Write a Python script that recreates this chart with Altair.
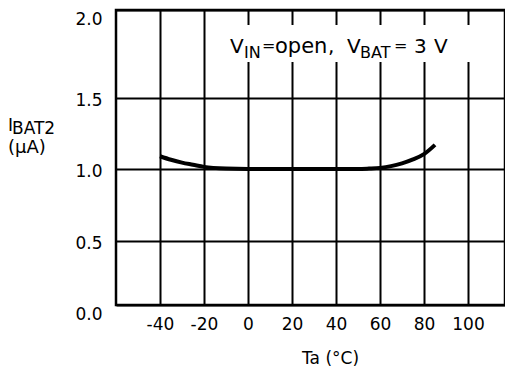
import altair as alt
import pandas as pd

# ---- data ----
temps = [-40, -35, -30, -25, -20, -10, 0, 10, 20, 30, 40, 50, 55, 60, 65, 70, 75, 80, 85]
ibat2 = [1.09, 1.065, 1.045, 1.03, 1.015, 1.003, 1.0, 1.0, 1.0, 1.0, 1.0, 1.0, 1.003, 1.008,
         1.02, 1.04, 1.068, 1.105, 1.17]
x_ticks = [-40, -20, 0, 20, 40, 60, 80, 100]
y_ticks = [0.0, 0.5, 1.0, 1.5, 2.0]

df = pd.DataFrame({"T": temps, "I": ibat2})

W, H = 389, 295
FONT = "DejaVu Sans"

xscale = alt.Scale(domain=[-60, 120], range=[0, 396], nice=False, zero=False)
yscale = alt.Scale(domain=y_ticks, range=[295, 231, 159, 88, 0], nice=False, zero=False)

x_axis = alt.Axis(values=x_ticks, grid=True, gridColor="black", gridWidth=2, gridOpacity=1,
                  domain=False, ticks=False, labelFont=FONT, labelFontSize=17,
                  labelColor="black", labelPadding=11, labelExpr="datum.value + ''",
                  title="Ta (°C)", titleFont=FONT, titleFontSize=17, titleFontWeight="normal",
                  titleColor="black", titleX=214, titleY=58, titleBaseline="alphabetic",
                  titleAlign="center")
y_axis = alt.Axis(values=y_ticks, grid=True, gridColor="black", gridWidth=2, gridOpacity=1,
                  domain=False, ticks=False, labelFont=FONT, labelFontSize=17,
                  labelColor="black", labelPadding=14, format=".1f", title=None,
                  labelOffset={"condition": {"test": "datum.value == 0 || datum.value == 2",
                                             "value": 9}, "value": 2})

line = alt.Chart(df).mark_line(color="black", strokeWidth=4, interpolate="monotone").encode(
    x=alt.X("T:Q", scale=xscale, axis=x_axis),
    y=alt.Y("I:Q", scale=yscale, axis=y_axis),
)

one = alt.Data(values=[{}])

mask = alt.Chart(one).mark_rect(color="white").encode(
    x=alt.value(112), x2=alt.value(362), y=alt.value(15), y2=alt.value(52))


def txt(s, x, y, size):
    return alt.Chart(one).mark_text(text=s, font=FONT, fontSize=size, color="black",
                                    align="left", baseline="alphabetic").encode(
        x=alt.value(x), y=alt.value(y))


labels = [
    txt("V", 114, 43, 20), txt("IN", 128, 48, 16), txt("=", 146, 41, 16),
    txt("open", 159, 43, 21), txt(",", 212, 43, 20),
    txt("V", 231, 43, 20), txt("BAT", 244, 48, 16), txt("=", 278, 41, 16),
    txt("3", 298, 43, 20), txt("V", 318, 43, 20),
    txt("I", -108, 121, 17), txt("BAT2", -104, 124, 17), txt("(μA)", -108, 143, 18),
]

chart = alt.layer(mask, line, *labels).properties(
    width=W, height=H,
    autosize=alt.AutoSizeParams(type="none"),
    padding={"left": 108, "top": 2, "right": 0, "bottom": 61},
    background="white",
).configure_view(stroke="black", strokeWidth=2.5)

chart.save("out.html", embed_options={"renderer": "svg", "actions": False})
